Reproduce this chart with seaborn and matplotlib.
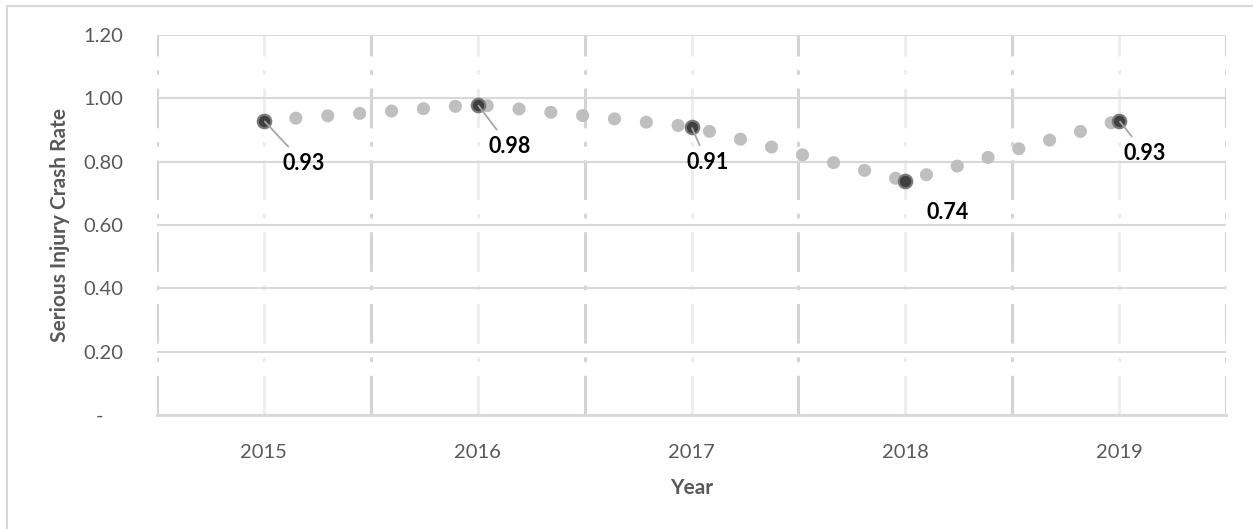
import matplotlib
matplotlib.use('Agg')
import matplotlib.pyplot as plt
import matplotlib.ticker as mticker
from matplotlib.lines import Line2D
import numpy as np
import pandas as pd
import seaborn as sns

# chart data
years = [2015, 2016, 2017, 2018, 2019]
rates = [0.93, 0.98, 0.91, 0.74, 0.93]
rate_labels = ['0.93', '0.98', '0.91', '0.74', '0.93']
y_ticks = [0, 0.2, 0.4, 0.6, 0.8, 1.0, 1.2]

df = pd.DataFrame({'Year': years, 'Rate': rates})

sns.set_theme(style='white')
plt.rcParams['font.family'] = ['Lato', 'DejaVu Sans']

grey_txt = '#595959'
dot_grey = '#bfbfbf'

fig = plt.figure(figsize=(12.53, 5.29), dpi=100)
ax = fig.add_axes([0.1253, 0.2155, 0.9785 - 0.1253, 0.9338 - 0.2155])

# dotted trend line (round dots)
sns.lineplot(data=df, x='Year', y='Rate', ax=ax, color=dot_grey, linewidth=9.4,
             linestyle=(0, (0.01, 2.44)), dash_capstyle='round', zorder=3)
# highlighted data points
sns.scatterplot(data=df, x='Year', y='Rate', ax=ax, s=95, color='#404040',
                edgecolor='#7a7a7a', linewidth=1.5, zorder=4)

# data labels with leader lines
offsets = [(40, -43), (32, -42), (16, -36), (42, -32), (26, -33)]
for yr, val, lab, off in zip(years, rates, rate_labels, offsets):
    arrow = None if yr == 2018 else dict(arrowstyle='-', color='#a6a6a6', lw=1.3,
                                          shrinkA=3, shrinkB=1)
    ax.annotate(lab, xy=(yr, val), xytext=off, textcoords='offset pixels',
                ha='center', va='center', fontsize=15.5, fontweight='bold',
                color='black', arrowprops=arrow, zorder=5)

ax.set_xlim(2014.5, 2019.5)
ax.set_ylim(0, 1.2)
ax.set_xticks(years)
ax.set_xticks(np.arange(2014.5, 2020, 1.0), minor=True)
ax.set_yticks(y_ticks)
ax.yaxis.set_major_formatter(mticker.FuncFormatter(
    lambda v, p: '-    ' if abs(v) < 1e-9 else '{:.2f}'.format(v)))

ax.tick_params(axis='both', which='both', length=0, labelsize=14.5, labelcolor=grey_txt)
ax.tick_params(axis='x', pad=21)
ax.tick_params(axis='y', pad=24)

# gridlines
ax.grid(axis='y', which='major', color='#d9d9d9', linewidth=1.5, linestyle='-')
ax.grid(axis='x', which='minor', color='#d4d4d4', linewidth=2.2,
        linestyle=(0, (13, 4.5, 1.5, 4.5)))
ax.grid(axis='x', which='major', color='#eeeeee', linewidth=2.2,
        linestyle=(0, (13, 4.5, 1.5, 4.5)))
ax.set_axisbelow(True)

for s in ['top', 'right', 'left']:
    ax.spines[s].set_visible(False)
ax.spines['bottom'].set_color('#d9d9d9')
ax.spines['bottom'].set_linewidth(2)

ax.set_xlabel('Year', fontsize=15, fontweight='bold', color=grey_txt, labelpad=12)
ax.set_ylabel('Serious Injury Crash Rate', fontsize=15, fontweight='bold',
              color=grey_txt, labelpad=10)

# outer chart frame (top and left edges visible)
fig.add_artist(Line2D([7 / 1253, 1], [1 - 5.5 / 529, 1 - 5.5 / 529],
                      transform=fig.transFigure, color='#d9d9d9', lw=1.5))
fig.add_artist(Line2D([7 / 1253, 7 / 1253], [0, 1 - 5.5 / 529],
                      transform=fig.transFigure, color='#d9d9d9', lw=1.5))

fig.savefig('out.png', dpi=100)
plt.close(fig)
